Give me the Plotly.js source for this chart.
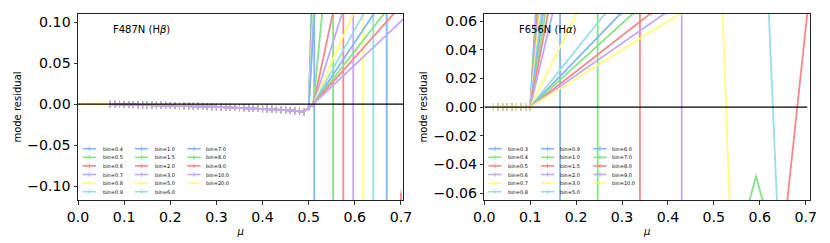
<!DOCTYPE html>
<html><head><meta charset="utf-8">
<script src="https://cdn.plot.ly/plotly-3.0.1.min.js"></script>
<style>html,body{margin:0;padding:0;background:#fff}#chart{width:830px;height:243px}</style>
</head><body><div id="chart"></div>
<script>
const palette = ['rgb(130,182,246)','rgb(136,226,136)','rgb(246,136,136)','rgb(196,168,248)','rgb(255,255,120)','rgb(156,220,226)'];

// ---------- Left panel: F487N (Hbeta) ----------
const hbBins = ['0.4','0.5','0.6','0.7','0.8','0.9','1.0','1.5','2.0','3.0','5.0','6.0','7.0','8.0','9.0','10.0','20.0'];
const hbFlatX = [0.07,0.08,0.09,0.10,0.11,0.12,0.13,0.14,0.15,0.16,0.17,0.18,0.19,0.20,0.21,0.22,0.23,0.24,0.25,0.26,0.27,0.28,0.29,0.30,0.31,0.32,0.33,0.34,0.35,0.36,0.37,0.38,0.39,0.40,0.41,0.42,0.43,0.44,0.45,0.46,0.47,0.48,0.49];
const hbFlatY = [0.0000,-0.0001,-0.0002,-0.0003,-0.0004,-0.0006,-0.0007,-0.0008,-0.0009,-0.0010,-0.0012,-0.0013,-0.0014,-0.0016,-0.0017,-0.0019,-0.0020,-0.0022,-0.0024,-0.0025,-0.0027,-0.0029,-0.0031,-0.0033,-0.0035,-0.0037,-0.0039,-0.0041,-0.0043,-0.0046,-0.0048,-0.0051,-0.0053,-0.0056,-0.0059,-0.0062,-0.0065,-0.0068,-0.0072,-0.0076,-0.0080,-0.0085,-0.0092];
const hbTailX = [
  [0.50,0.506,0.512,0.512,0.705],
  [0.50,0.507,0.553,0.553,0.705],
  [0.50,0.508,0.575,0.575,0.69,0.70,0.71],
  [0.50,0.509,0.5965,0.5965,0.705],
  [0.50,0.510,0.618,0.618,0.705],
  [0.50,0.511,0.640,0.640,0.705],
  [0.50,0.513,0.669,0.669,0.705],
  [0.50,0.51,0.530],
  [0.50,0.51,0.554],
  [0.50,0.51,0.575],
  [0.50,0.51,0.600],
  [0.50,0.51,0.624],
  [0.50,0.51,0.647],
  [0.50,0.51,0.670],
  [0.50,0.51,0.692],
  [0.50,0.51,0.708],
  [0.01,0.02,0.03,0.04,0.05,0.06]
];
const hbTailY = [
  [-0.004,0.115,9,-9,-9],
  [-0.004,0.115,9,-9,-9],
  [-0.004,0.115,9,-9,-9,-0.108,-9],
  [-0.004,0.115,9,-9,-9],
  [-0.004,0.115,9,-9,-9],
  [-0.004,0.115,9,-9,-9],
  [-0.004,0.115,9,-9,-9],
  [-0.004,0.0,0.115],
  [-0.004,0.0,0.115],
  [-0.004,0.0,0.115],
  [-0.004,0.0,0.115],
  [-0.004,0.0,0.115],
  [-0.004,0.0,0.115],
  [-0.004,0.0,0.115],
  [-0.004,0.0,0.115],
  [-0.004,0.0,0.105],
  [0,0,0,0,0,0]
];
const hbOwnOnly = ['20.0'];
const hbZeroX = [0, 0.705], hbZeroY = [0, 0];

// ---------- Right panel: F656N (Halpha) ----------
const haBins = ['0.3','0.4','0.5','0.6','0.7','0.8','0.9','1.0','1.5','2.0','3.0','5.0','6.0','7.0','8.0','9.0','10.0'];
const haFlatX = [0.02,0.03,0.04,0.05,0.06,0.07,0.08,0.09];
const haFlatY = [0,0,0,0,0,0,0,0];
const haTailX = [
  [0.10,0.112,0.165,0.165,0.71],
  [0.10,0.114,0.247,0.247,0.56,0.577,0.592,0.607,0.625],
  [0.10,0.116,0.339,0.339,0.64,0.655,0.705,0.72],
  [0.10,0.118,0.430,0.430,0.71],
  [0.10,0.121,0.30,0.515,0.537,0.55],
  [0.10,0.124,0.30,0.615,0.642,0.66],
  [0.10,0.128],
  [0.10,0.133],
  [0.10,0.139],
  [0.10,0.149],
  [0.10,0.202],
  [0.10,0.265],
  [0.10,0.299],
  [0.10,0.326],
  [0.10,0.3646],
  [0.10,0.396],
  [0.10,0.430]
];
const haTailY = [
  [0,0.066,9,-9,-9],
  [0,0.066,9,-9,-9,-0.066,-0.048,-0.066,-9],
  [0,0.066,9,-9,-9,-0.08,0.07,0.2],
  [0,0.066,9,-9,-9],
  [0,0.066,9,0.1,-0.09,-9],
  [0,0.066,9,0.1,-0.1,-9],
  [0,0.066],[0,0.066],[0,0.066],[0,0.066],[0,0.066],[0,0.066],
  [0,0.066],[0,0.066],[0,0.066],[0,0.066],[0,0.066]
];
const haZeroX = [0, 0.7035], haZeroY = [0, 0];

// ---------- geometry ----------
const W = 830, H = 243, ML = 78, MR = 20, MT = 14, MB = 43;
const PW = W - ML - MR, PH = H - MT - MB;
const px2x = p => (p - ML) / PW;
const py2y = p => (H - MB - p) / PH;

const traces = [];
function addPanel(bins, flatX, flatY, tailX, tailY, own, xa, ya) {
  bins.forEach((b, i) => {
    const c = palette[i % 6];
    const useFlat = own.indexOf(b) < 0;
    const x = useFlat ? flatX.concat(tailX[i]) : tailX[i];
    const y = useFlat ? flatY.concat(tailY[i]) : tailY[i];
    traces.push({x, y, xaxis: xa, yaxis: ya, type: 'scatter', mode: 'lines+markers',
      name: 'bin=' + b, showlegend: false, hoverinfo: 'skip',
      line: {color: c, width: 1.8},
      marker: {symbol: 'line-ns', size: 5, color: c, opacity: 0.7, line: {color: c, width: 1}}});
  });
}
addPanel(hbBins, hbFlatX, hbFlatY, hbTailX, hbTailY, hbOwnOnly, 'x', 'y');
addPanel(haBins, haFlatX, haFlatY, haTailX, haTailY, [], 'x2', 'y2');
traces.push({x: hbZeroX, y: hbZeroY, xaxis: 'x', yaxis: 'y', mode: 'lines', line: {color: 'black', width: 1.3}, showlegend: false, hoverinfo: 'skip'});
traces.push({x: haZeroX, y: haZeroY, xaxis: 'x2', yaxis: 'y2', mode: 'lines', line: {color: 'black', width: 1.3}, showlegend: false, hoverinfo: 'skip'});

// ---------- manual legends ----------
const shapes = [], annotations = [];
function addLegend(bins, lineX0, textX) {
  const rowY0 = 148.7, rowDy = 8.6;
  bins.forEach((b, i) => {
    const col = Math.floor(i / 6), row = i % 6;
    const c = palette[i % 6];
    const y = rowY0 + row * rowDy;
    const x0 = lineX0[col], x1 = x0 + 13.3, xm = (x0 + x1) / 2;
    shapes.push({type: 'line', xref: 'paper', yref: 'paper', x0: px2x(x0), x1: px2x(x1), y0: py2y(y), y1: py2y(y), line: {color: c, width: 1.6}});
    shapes.push({type: 'line', xref: 'paper', yref: 'paper', x0: px2x(xm), x1: px2x(xm), y0: py2y(y - 2.3), y1: py2y(y + 2.3), line: {color: c, width: 1}});
    annotations.push({xref: 'paper', yref: 'paper', x: px2x(textX[col]), y: py2y(y), xanchor: 'left', yanchor: 'middle',
      text: 'bin=' + b, showarrow: false, font: {family: 'DejaVu Sans', size: 5, color: '#000'}});
  });
}
addLegend(hbBins, [82.7, 135, 187.3], [100.5, 152.5, 204.3]);
addLegend(haBins, [488.3, 541, 593.3], [505.8, 558.3, 610.2]);

annotations.push({xref: 'x', yref: 'y', x: 0.071, y: 0.0915, xanchor: 'left', yanchor: 'middle', showarrow: false,
  text: 'F487N (H<i>β</i>)', font: {family: 'DejaVu Sans', size: 10, color: '#000'}});
annotations.push({xref: 'x2', yref: 'y2', x: 0.0712, y: 0.0545, xanchor: 'left', yanchor: 'middle', showarrow: false,
  text: 'F656N (H<i>α</i>)', font: {family: 'DejaVu Sans', size: 10, color: '#000'}});

const tickFont = {family: 'DejaVu Sans', size: 14.2, color: '#000'};
const axBase = {showgrid: false, zeroline: false, showline: true, linecolor: '#222', linewidth: 1, mirror: true,
  ticks: 'outside', ticklen: 3.5, tickwidth: 0.8, tickcolor: '#000', tickfont: tickFont, automargin: false};
const xTitle = {text: '<i>μ</i>', font: {family: 'DejaVu Sans', size: 10, color: '#000'}, standoff: 4};
const yTitle = {text: 'mode residual', font: {family: 'DejaVu Sans', size: 10, color: '#000'}, standoff: 3};

const layout = {
  width: W, height: H, margin: {l: ML, r: MR, t: MT, b: MB},
  paper_bgcolor: '#fff', plot_bgcolor: '#fff', showlegend: false,
  xaxis: Object.assign({}, axBase, {domain: [0, px2x(403.3)], range: [0, 0.705], tick0: 0, dtick: 0.1, tickformat: '.1f', anchor: 'y', title: xTitle}),
  yaxis: Object.assign({}, axBase, {domain: [0, 1], range: [-0.1167, 0.1098], tick0: 0, dtick: 0.05, tickformat: '.2f', anchor: 'x', title: yTitle}),
  xaxis2: Object.assign({}, axBase, {domain: [px2x(484.3), 1], range: [0, 0.7094], tick0: 0, dtick: 0.1, tickformat: '.1f', anchor: 'y2', title: xTitle}),
  yaxis2: Object.assign({}, axBase, {domain: [0, 1], range: [-0.0648, 0.065], tick0: 0, dtick: 0.02, tickformat: '.2f', anchor: 'x2', title: yTitle}),
  shapes, annotations
};
Plotly.newPlot('chart', traces, layout, {staticPlot: true, displayModeBar: false});
</script></body></html>
